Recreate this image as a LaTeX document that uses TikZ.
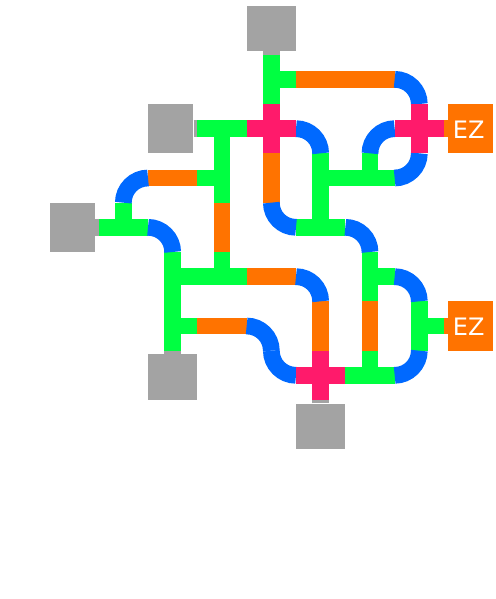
\documentclass[tikz,border=0pt]{standalone}
\usepackage{fontspec}
\setmainfont{DejaVu Sans}
\definecolor{wgreen}{HTML}{00FF41}
\definecolor{worange}{HTML}{FF7300}
\definecolor{wblue}{HTML}{0069FF}
\definecolor{wpink}{HTML}{FF1A6B}
\definecolor{wgray}{HTML}{A3A3A3}
\tikzset{
  wire/.style={line width=16.7pt,line cap=butt},
  boxv/.style={fill=wgray,inner sep=0pt,minimum width=49.33pt,minimum height=45.6pt},
  boxh/.style={fill=wgray,inner sep=0pt,minimum width=45.2pt,minimum height=49.33pt},
  ezbox/.style={fill=worange,inner sep=0pt,minimum width=45.2pt,minimum height=49.33pt},
  eztext/.style={text=white,inner sep=0pt,font=\fontsize{24}{24}\selectfont},
  hw/.pic={\draw[wire,pic actions] (-.5,0) -- (.5,0);},
  vw/.pic={\draw[wire,pic actions] (0,-.5) -- (0,.5);},
  cross/.pic={\draw[wire,pic actions] (-.5,0) -- (.5,0) (0,-.5) -- (0,.5);},
  tn/.pic={\draw[wire,pic actions] (-.5,0) -- (.5,0) (0,-.5) -- (0,.1);},
  ts/.pic={\draw[wire,pic actions] (-.5,0) -- (.5,0) (0,.5) -- (0,-.1);},
  te/.pic={\draw[wire,pic actions] (0,-.5) -- (0,.5) (.5,0) -- (-.1,0);},
  ws/.pic={\draw[wire,pic actions] (-.5,0) .. controls (-.224,0) and (0,.224) .. (0,.5);},
  es/.pic={\draw[wire,pic actions] (.5,0) .. controls (.224,0) and (0,.224) .. (0,.5);},
  wn/.pic={\draw[wire,pic actions] (-.5,0) .. controls (-.224,0) and (0,-.224) .. (0,-.5);},
  ne/.pic={\draw[wire,pic actions] (.5,0) .. controls (.224,0) and (0,-.224) .. (0,-.5);},
}
\begin{document}
\begin{tikzpicture}[x=49.33pt,y=-49.33pt]
\useasboundingbox (-1.5,-.608) rectangle (8.534,11.534);
% green pieces
\foreach \c/\r in {5/4,6/3,1/4,3/5,6/7} \pic[draw=wgreen] at (\c,\r) {tn};
\foreach \c/\r in {3/2} \pic[draw=wgreen] at (\c,\r) {ts};
\foreach \c/\r in {4/1,5/3,2/5,6/5,2/6,7/6} \pic[draw=wgreen] at (\c,\r) {te};
\draw[wire,wgreen] (2.5,3) -- (3,3) (3,2.5) -- (3,3.5);
\pic[draw=worange] at (5,1) {hw};
\pic[draw=worange] at (6,1) {hw};
\foreach \c/\r in {2/3,4/5,3/6} \pic[draw=worange] at (\c,\r) {hw};
\foreach \c/\r in {4/3,3/4,5/6,6/6} \pic[draw=worange] at (\c,\r) {vw};
\foreach \c/\r in {7/1,5/2,2/4,6/4,5/5,7/5,4/6} \pic[draw=wblue] at (\c,\r) {ws};
\foreach \c/\r in {6/2,1/3} \pic[draw=wblue] at (\c,\r) {es};
\foreach \c/\r in {7/3,7/7} \pic[draw=wblue] at (\c,\r) {wn};
\foreach \c/\r in {4/4,4/7} \pic[draw=wblue] at (\c,\r) {ne};
\foreach \c/\r in {4/2,7/2,5/7} \pic[draw=wpink] at (\c,\r) {cross};
% terminals
\node[boxv,anchor=north] (gtop) at (4,-.5) {};
\node[boxh,anchor=west] (gmid) at (1.5,2) {};
\node[boxh,anchor=west] (gleft) at (-.5,4) {};
\node[boxv,anchor=south] (gbl) at (2,7.5) {};
\node[boxv,anchor=south] (gbot) at (5,8.5) {};
\node[ezbox,anchor=east] (eza) at (8.5,2) {};
\node[ezbox,anchor=east] (ezb) at (8.5,6) {};
\node[eztext] (ezat) at (8,2.015) {EZ};
\node[eztext] (ezbt) at (8,6.015) {EZ};
\coordinate (ptop) at (4,.5);
\coordinate (pmid) at (2.5,2);
\coordinate (pleft) at (.5,4);
\coordinate (pbl) at (2,6.5);
\coordinate (pbot) at (5,7.5);
\coordinate (pa) at (7.5,2);
\coordinate (pb) at (7.5,6);
\draw[wire,wgray] (gtop.south) -- (ptop);
\draw[wire,wgray] (gmid.east) -- (pmid);
\draw[wire,wgray] (gleft.east) -- (pleft);
\draw[wire,wgray] (gbl.north) -- (pbl);
\draw[wire,wgray] (gbot.north) -- (pbot);
\draw[wire,worange] (eza.west) -- (pa);
\draw[wire,worange] (ezb.west) -- (pb);
\end{tikzpicture}
\end{document}
